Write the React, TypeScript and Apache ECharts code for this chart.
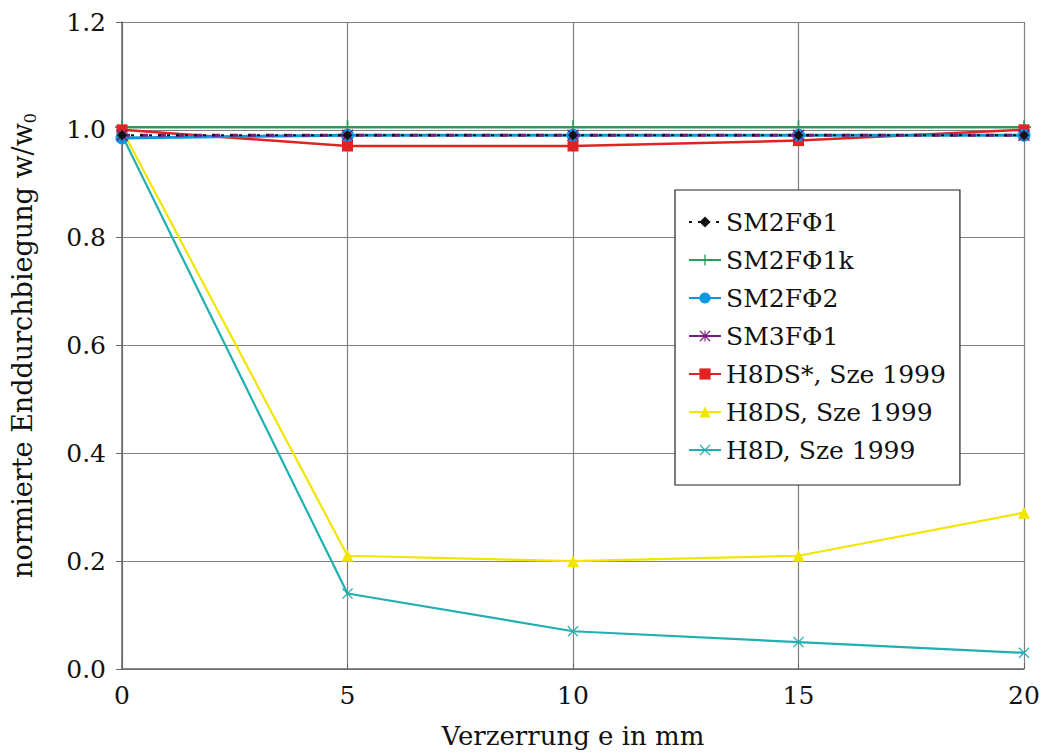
import React, { useEffect, useRef } from "react";
import * as echarts from "echarts";

const xValues = [0, 5, 10, 15, 20];
const seriesNames = [
  "SM2FΦ1",
  "SM2FΦ1k",
  "SM2FΦ2",
  "SM3FΦ1",
  "H8DS*, Sze 1999",
  "H8DS, Sze 1999",
  "H8D, Sze 1999",
];
const sm2f1 = [0.99, 0.99, 0.99, 0.99, 0.99];
const sm2f1k = [1.005, 1.005, 1.005, 1.005, 1.005];
const sm2f2 = [0.985, 0.99, 0.99, 0.99, 0.99];
const sm3f1 = [0.99, 0.99, 0.99, 0.99, 0.99];
const h8dsStar = [1.0, 0.97, 0.97, 0.98, 1.0];
const h8ds = [1.0, 0.21, 0.2, 0.21, 0.29];
const h8d = [0.99, 0.14, 0.07, 0.05, 0.03];
const yTicks = [0, 0.2, 0.4, 0.6, 0.8, 1.0, 1.2];
const xTicks = [0, 5, 10, 15, 20];

const PLUS = "path://M4.4,0H5.6V4.4H10V5.6H5.6V10H4.4V5.6H0V4.4H4.4Z";
const CROSS =
  "path://M0.8,0L5,4.2L9.2,0L10,0.8L5.8,5L10,9.2L9.2,10L5,5.8L0.8,10L0,9.2L4.2,5L0,0.8Z";
const STAR =
  "path://M0.8,0L5,4.2L9.2,0L10,0.8L5.8,5L10,9.2L9.2,10L5,5.8L0.8,10L0,9.2L4.2,5L0,0.8Z M4.5,0H5.5V10H4.5Z";

const pairs = (ys: number[]) => xValues.map((x, i) => [x, ys[i]]);

export default function App() {
  const ref = useRef<HTMLDivElement>(null);
  useEffect(() => {
    if (!ref.current) return;
    const chart = echarts.init(ref.current, undefined, { renderer: "svg" });
    const font = "DejaVu Serif";
    const mk = (
      name: string,
      ys: number[],
      color: string,
      symbol: string,
      size: number,
      lineType: any = "solid",
      width = 2,
      z = 2
    ) => ({
      name,
      type: "line",
      data: pairs(ys),
      symbol,
      symbolSize: size,
      showSymbol: true,
      lineStyle: { color, width, type: lineType },
      itemStyle: { color },
      z,
    });
    chart.setOption({
      animation: false,
      textStyle: { fontFamily: font },
      grid: {
        left: 122,
        right: 21,
        top: 22,
        bottom: 84,
        containLabel: false,
        outerBoundsMode: "none",
      },
      xAxis: {
        type: "value",
        min: 0,
        max: 20,
        interval: 5,
        name: "Verzerrung e in mm",
        nameLocation: "middle",
        nameGap: 54,
        nameTextStyle: { fontFamily: font, fontSize: 26, color: "#111" },
        axisLine: { onZero: false, lineStyle: { color: "#666", width: 1.5 } },
        axisTick: { inside: true, length: 6, lineStyle: { color: "#666" } },
        axisLabel: {
          fontFamily: font,
          fontSize: 25,
          color: "#111",
          margin: 14,
          formatter: (v: number) => (xTicks.includes(v) ? String(v) : ""),
        },
        splitLine: { show: true, lineStyle: { color: "#808080", width: 1.2 } },
      },
      yAxis: {
        type: "value",
        min: 0,
        max: 1.2,
        interval: 0.2,
        name: "normierte Enddurchbiegung w/w{sub|0}",
        nameLocation: "middle",
        nameGap: 84,
        nameRotate: 90,
        nameTextStyle: {
          fontFamily: font,
          fontSize: 27,
          color: "#111",
          rich: {
            sub: { fontFamily: font, fontSize: 16, color: "#111", padding: [15, 0, 0, 0] },
          },
        },
        axisLine: { show: true, lineStyle: { color: "#666", width: 1.5 } },
        axisTick: { show: true, inside: false, length: 6, lineStyle: { color: "#666" } },
        axisLabel: {
          fontFamily: font,
          fontSize: 25,
          color: "#111",
          margin: 16,
          formatter: (v: number) => {
            const t = yTicks.find((y) => Math.abs(y - v) < 1e-6);
            return t === undefined ? "" : t.toFixed(1);
          },
        },
        splitLine: { show: true, lineStyle: { color: "#808080", width: 1.2 } },
      },
      legend: {
        orient: "vertical",
        left: 675,
        top: 190,
        padding: [19, 14, 22, 13],
        itemGap: 12,
        itemWidth: 32,
        itemHeight: 14,
        backgroundColor: "#fff",
        borderColor: "#222",
        borderWidth: 1.2,
        borderRadius: 0,
        textStyle: { fontFamily: font, fontSize: 25, color: "#111", lineHeight: 26 },
        data: [
          { name: seriesNames[0] },
          { name: seriesNames[1] },
          { name: seriesNames[2] },
          { name: seriesNames[3], lineStyle: { type: "solid" } },
          { name: seriesNames[4] },
          { name: seriesNames[5] },
          { name: seriesNames[6] },
        ],
      },
      series: [
        mk(seriesNames[1], sm2f1k, "#2e9a5c", PLUS, 14, "solid", 2.5, 2),
        mk(seriesNames[4], h8dsStar, "#e02424", "rect", 11, "solid", 2.5, 3),
        mk(seriesNames[5], h8ds, "#f2e600", "triangle", 12, "solid", 2.2, 2),
        mk(seriesNames[6], h8d, "#1fb0b0", CROSS, 11, "solid", 2.2, 2),
        mk(seriesNames[2], sm2f2, "#0a96e0", "circle", 13, "solid", 3, 4),
        mk(seriesNames[3], sm3f1, "#7f1d7f", STAR, 12, [8, 10], 3, 5),
        mk(seriesNames[0], sm2f1, "#111111", "diamond", 10, [3, 6], 2, 6),
      ],
    });
    return () => chart.dispose();
  }, []);
  return <div ref={ref} style={{ width: 1045, height: 753, position: "absolute", left: 0, top: 0 }} />;
}
